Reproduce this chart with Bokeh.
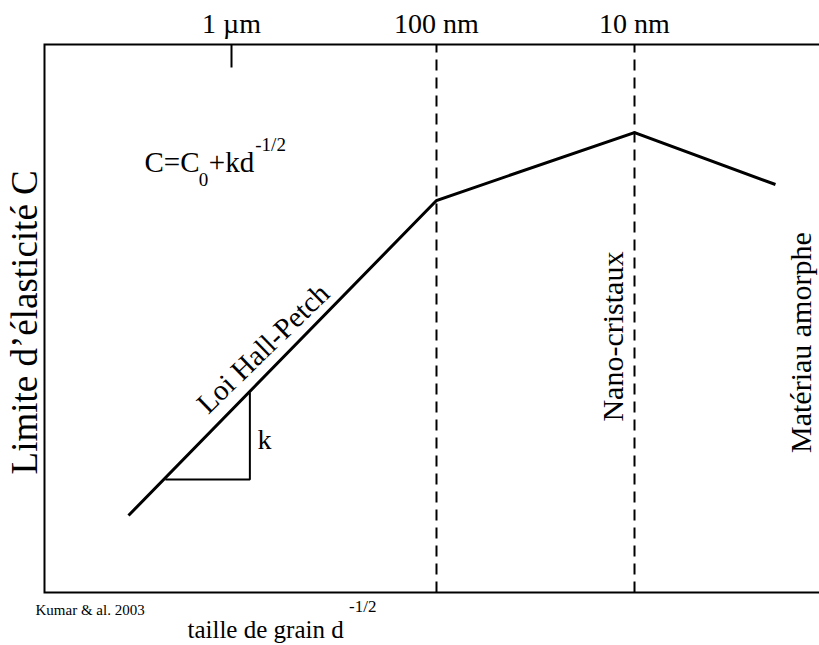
import math
from bokeh.plotting import figure
from bokeh.models import Range1d, Label
from bokeh.embed import file_html
from bokeh.resources import INLINE

FONT = "Liberation Serif"

# --- data (conceptual units: x = d^-1/2 position, box spans 0..100; y = yield strength, box spans 0..100)
tick_pos = [24.13, 50.58, 76.13]
tick_labels = ["1 \u00b5m", "100 nm", "10 nm"]
marker_tick = [24.13]          # the only drawn tick (1 µm)
boundaries = [50.58, 76.13]    # dashed regime boundaries (100 nm, 10 nm)

curve_x = [10.84, 50.58, 76.13, 94.32]
curve_y = [14.05, 71.53, 83.94, 74.45]

slope_tri_x = [15.6, 26.5, 26.5]
slope_tri_y = [20.6, 20.6, 36.5]

# box (frame) of the diagram: top, left and bottom sides
box_x = [100, 0, 0, 100]
box_y = [100, 100, 0, 0]

p = figure(width=819, height=645, output_backend="svg", toolbar_location=None,
           x_range=Range1d(-5.677, 100), y_range=Range1d(-9.672, 108.03),
           x_axis_location=None, y_axis_location=None,
           min_border_left=0, min_border_right=0, min_border_top=0, min_border_bottom=0)
p.outline_line_color = None
p.grid.visible = False
p.background_fill_color = "white"
p.border_fill_color = "white"

p.line(box_x, box_y, line_width=2, line_color="black", line_join="miter")

# inward tick at 1 µm
p.segment(x0=marker_tick, y0=[100] * len(marker_tick), x1=marker_tick,
          y1=[95.8] * len(marker_tick), line_width=2, line_color="black")

# dashed regime boundaries
p.segment(x0=boundaries, y0=[0] * len(boundaries), x1=boundaries, y1=[100] * len(boundaries),
          line_width=2, line_color="black", line_dash="11 7")

p.line(curve_x, curve_y, line_width=3, line_color="black", line_join="miter")
p.line(slope_tri_x, slope_tri_y, line_width=2, line_color="black")


def lab(text, x, y, size, angle=0.0, align="left"):
    p.add_layout(Label(x=x, y=y, text=text, text_font=FONT, text_font_size=size,
                       text_color="black", angle=angle, text_align=align,
                       text_baseline="alphabetic"))


# tick labels above the box
for t, l in zip(tick_pos, tick_labels):
    lab(l, t, 103.9, "28px", align="center")

lab("C=C", 12.9, 78.6, "29px")
lab("0", 19.9, 75.4, "19px")
lab("+kd", 21.2, 78.6, "29px")
lab("-1/2", 27.2, 81.8, "19px")
lab("k", 27.5, 28.0, "28px")
lab("Loi Hall-Petch", 28.16, 44.6, "29px", angle=0.77, align="center")
lab("Nano-cristaux", 73.3, 46.7, "30px", angle=math.pi / 2, align="center")
lab("Mat\u00e9riau amorphe", 97.5, 45.6, "30px", angle=math.pi / 2, align="center")
lab("Limite d\u2019\u00e9lasticit\u00e9 C", -2.52, 49.3, "37px", angle=math.pi / 2, align="center")
lab("taille de grain d", 18.45, -6.84, "25px")
lab("-1/2", 39.3, -2.6, "17px")
lab("Kumar & al. 2003", -1.16, -3.27, "15px")

open("out.html", "w").write(file_html(p, INLINE))
